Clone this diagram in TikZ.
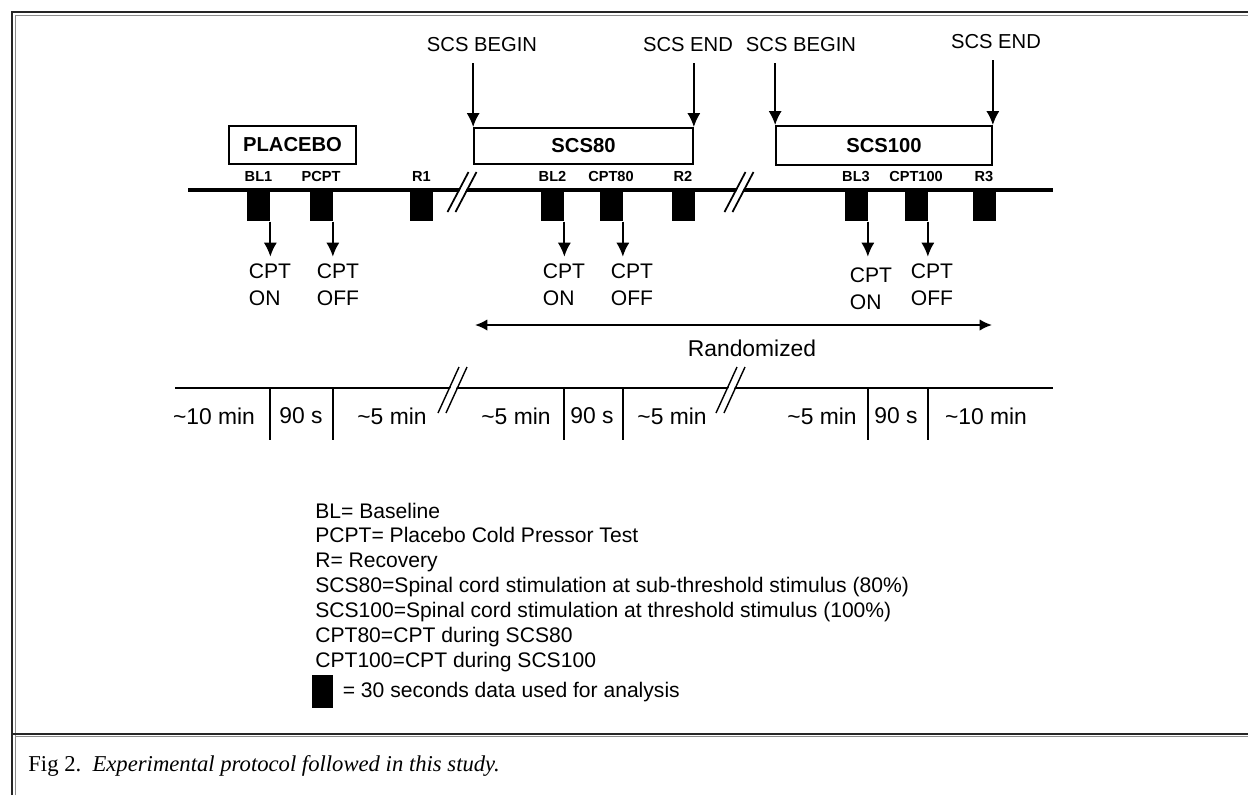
\documentclass[tikz,border=0pt]{standalone}
\usepackage{fontspec}
\setmainfont{Liberation Sans}
\newfontfamily\capfont{Liberation Serif}
\usepackage{tikz}
\usetikzlibrary{arrows.meta,positioning}

\tikzset{
  phase/.style={draw, line width=1pt, font=\fontsize{11.5}{13}\selectfont\bfseries, inner sep=0pt},
  datablock/.style={fill=black, minimum width=0.46cm, minimum height=0.6cm, inner sep=0pt, anchor=north},
  tag/.style={font=\fontsize{8.3}{9}\selectfont\bfseries, inner sep=1pt},
  cpt/.style={font=\fontsize{12}{15.3}\selectfont, align=left, anchor=north, inner sep=1pt},
  marker/.style={font=\fontsize{11.5}{13}\selectfont, inner sep=1pt},
  dur/.style={font=\fontsize{13}{15}\selectfont, inner sep=1pt},
  legendtext/.style={font=\fontsize{12}{14}\selectfont, anchor=base west, inner sep=0pt},
  arr/.style={line width=1.1pt, -{Latex[length=8pt,width=7.5pt]}},
  frameline/.style={line width=1.4pt, black!85},
  frameinner/.style={line width=0.5pt, black!45},
}

\begin{document}
\begin{tikzpicture}[x=0.02cm, y=-0.02cm]

        \useasboundingbox (0,0) rectangle (1248,795);

        % Page frame
        \draw[frameline] (12,795) -- (12,12) -- (1248,12);
        \draw[frameinner] (15.5,795) -- (15.5,15.5) -- (1248,15.5);
        \draw[frameline] (12,734) -- (1248,734);
        \draw[frameinner] (15.5,736.5) -- (1248,736.5);

        % Phase boxes
        \node[phase, minimum width=2.54cm, minimum height=0.76cm] (placebo) at (292.5,145) {PLACEBO};
        \node[phase, minimum width=4.38cm, minimum height=0.72cm] (scs80) at (583.5,146) {SCS80};
        \node[phase, minimum width=4.32cm, minimum height=0.78cm] (scs100) at (884,145.5) {SCS100};

        % Stimulation start/end
        \node[marker] (begin80) at (482,45) {SCS BEGIN};
        \node[marker] (end80) at (688,45) {SCS END};
        \node[marker] (begin100) at (801,45) {SCS BEGIN};
        \node[marker] (end100) at (996,42) {SCS END};
        \draw[arr, shorten <=5pt] (scs80.north west |- begin80.south) -- (scs80.north west);
        \draw[arr, shorten <=5pt] (scs80.north east |- end80.south) -- (scs80.north east);
        \draw[arr, shorten <=5pt] (scs100.north west |- begin100.south) -- (scs100.north west);
        \draw[arr, shorten <=5pt] (scs100.north east |- end100.south) -- (scs100.north east);

        % Main timeline
        \coordinate (tlA) at (188,190);
        \coordinate (tlB) at (1053,190);
        \draw[line width=2.4pt] (tlA) -- (tlB);

        % 30 s data blocks
        \foreach \nm/\x/\txt in {bl1/258.5/BL1, pcpt/321/PCPT, r1/421.5/R1,
                                 bl2/552.5/BL2, cpt80/611/CPT80, r2/683/R2,
                                 bl3/856/BL3, cpt100/916/CPT100, r3/984/R3} {
            \node[datablock] (\nm) at (\x,191) {};
            \node[tag] (\nm-tag) at (\x,176) {\txt};
        }

        % Breaks on main timeline
        \foreach \x in {462,739} {
            \draw[white, line width=3pt] (\x-10.5,212) -- (\x+10.5,172);
            \draw[line width=1pt] (\x-14.5,212) -- (\x+6.5,172) (\x-6.5,212) -- (\x+14.5,172);
        }

        % Cold pressor test on/off
        \node[cpt] (on1) at (270,262) {CPT\\ON};
        \node[cpt] (off1) at (338,262) {CPT\\OFF};
        \node[cpt] (on2) at (564,262) {CPT\\ON};
        \node[cpt] (off2) at (632,262) {CPT\\OFF};
        \node[cpt] (on3) at (871,266) {CPT\\ON};
        \node[cpt] (off3) at (932,262) {CPT\\OFF};
        \draw[arr, shorten >=3pt] (bl1.south east) -- (bl1.south east |- on1.north);
        \draw[arr, shorten >=3pt] (pcpt.south east) -- (pcpt.south east |- off1.north);
        \draw[arr, shorten >=3pt] (bl2.south east) -- (bl2.south east |- on2.north);
        \draw[arr, shorten >=3pt] (cpt80.south east) -- (cpt80.south east |- off2.north);
        \draw[arr, shorten >=3pt] (bl3.south east) -- (bl3.south east |- off3.north);
        \draw[arr, shorten >=3pt] (cpt100.south east) -- (cpt100.south east |- off3.north);

        % Randomized order
        \coordinate (randL) at (475,325);
        \coordinate (randR) at (992,325);
        \draw[line width=1.1pt, {Latex[length=7pt,width=6.5pt]}-{Latex[length=7pt,width=6.5pt]}] (randL) -- (randR);
        \node[dur] (rand) at (752,348) {Randomized};

        % Duration timeline
        \coordinate (btA) at (175,388);
        \coordinate (btB) at (1053,388);
        \draw[line width=1pt] (btA) -- (btB);
        \foreach \nm in {bl1,pcpt,bl2,cpt80,bl3,cpt100}
            \draw[line width=1pt] (\nm.south east |- btA) -- ++(0,52);
        \foreach \x in {453,731} {
            \draw[white, line width=3pt] (\x-11,413) -- (\x+10,367);
            \draw[line width=0.8pt] (\x-15,413) -- (\x+6,367) (\x-7,413) -- (\x+14,367);
        }

        % Durations
        \foreach \nm/\x/\txt in {d1/214/\textasciitilde10 min, d2/301/90 s, d3/392/\textasciitilde5 min,
                                 d4/516/\textasciitilde5 min, d5/592/90 s, d6/672/\textasciitilde5 min,
                                 d7/822/\textasciitilde5 min, d8/896/90 s, d9/986/\textasciitilde10 min}
            \node[dur] (\nm) at (\x,416) {\txt};

        % Legend
        \foreach \i/\txt in {1/BL= Baseline, 2/PCPT= Placebo Cold Pressor Test, 3/R= Recovery,
                             4/SCS80=Spinal cord stimulation at sub-threshold stimulus (80\%),
                             5/SCS100=Spinal cord stimulation at threshold stimulus (100\%),
                             6/CPT80=CPT during SCS80, 7/CPT100=CPT during SCS100}
            \node[legendtext] (leg\i) at (315,{518+24.9*(\i-1)}) {\txt};
        \node[datablock, anchor=north west, minimum width=0.42cm, minimum height=0.66cm] (keyblock) at (312,675) {};
        \node[legendtext, anchor=west, right=5pt of keyblock] (keytext) {= 30 seconds data used for analysis};

        % Caption
        \node[anchor=base west, font=\capfont\fontsize{12.9}{14}\selectfont, inner sep=0pt] (caption) at (28,771)
            {Fig 2.\ \ \textit{Experimental protocol followed in this study.}};

    \end{tikzpicture}
\end{document}
